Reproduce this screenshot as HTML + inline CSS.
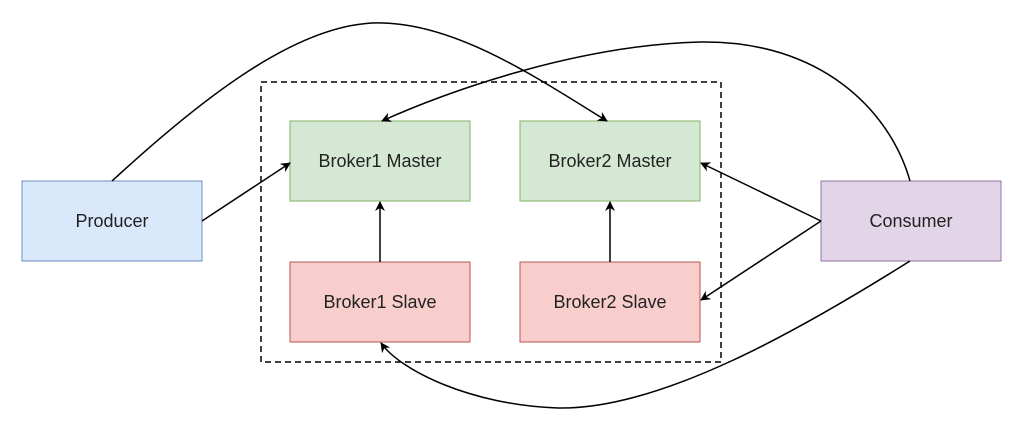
<!DOCTYPE html>
<html><head><meta charset="utf-8"><style>
html,body{margin:0;padding:0;background:#fff;}
svg{display:block;}
text{font-family:"Liberation Sans",sans-serif;font-size:18px;fill:#222;text-anchor:middle;dominant-baseline:central;}
</style></head><body>
<svg width="1032" height="442" viewBox="0 0 1032 442" xmlns="http://www.w3.org/2000/svg">
<defs><marker id="a" markerWidth="10" markerHeight="10" refX="9" refY="5" orient="auto" markerUnits="userSpaceOnUse"><path d="M0,0 L10,5 L0,10 L3,5 Z" fill="#000"/></marker></defs>
<rect x="261" y="82" width="460" height="280" fill="none" stroke="#000" stroke-width="1.5" stroke-dasharray="6,4"/>
<rect x="22" y="181" width="180" height="80" fill="#dae8fc" stroke="#6c8ebf"/>
<text x="112" y="221">Producer</text>
<rect x="290" y="121" width="180" height="80" fill="#d5e8d4" stroke="#82b366"/>
<text x="380" y="161">Broker1 Master</text>
<rect x="520" y="121" width="180" height="80" fill="#d5e8d4" stroke="#82b366"/>
<text x="610" y="161">Broker2 Master</text>
<rect x="290" y="262" width="180" height="80" fill="#f8cecc" stroke="#b85450"/>
<text x="380" y="302">Broker1 Slave</text>
<rect x="520" y="262" width="180" height="80" fill="#f8cecc" stroke="#b85450"/>
<text x="610" y="302">Broker2 Slave</text>
<rect x="821" y="181" width="180" height="80" fill="#e1d5e7" stroke="#9673a6"/>
<text x="911" y="221">Consumer</text>
<g fill="none" stroke="#000" stroke-width="1.5" marker-end="url(#a)">
<path d="M202,221 L290,163"/>
<path d="M380,262 L380,202"/>
<path d="M610,262 L610,202"/>
<path d="M821,221 L701,163"/>
<path d="M821,221 L701,300"/>
<path d="M112,181 C200,100 300,20 383,23 C460,25 540,80 607,121"/>
<path d="M910,181 C890,110 820,40 700,42 C580,45 450,90 382,121"/>
<path d="M910,261 C800,330 660,410 558,408 C470,405 400,370 381,343"/>
</g>
</svg>
</body></html>
